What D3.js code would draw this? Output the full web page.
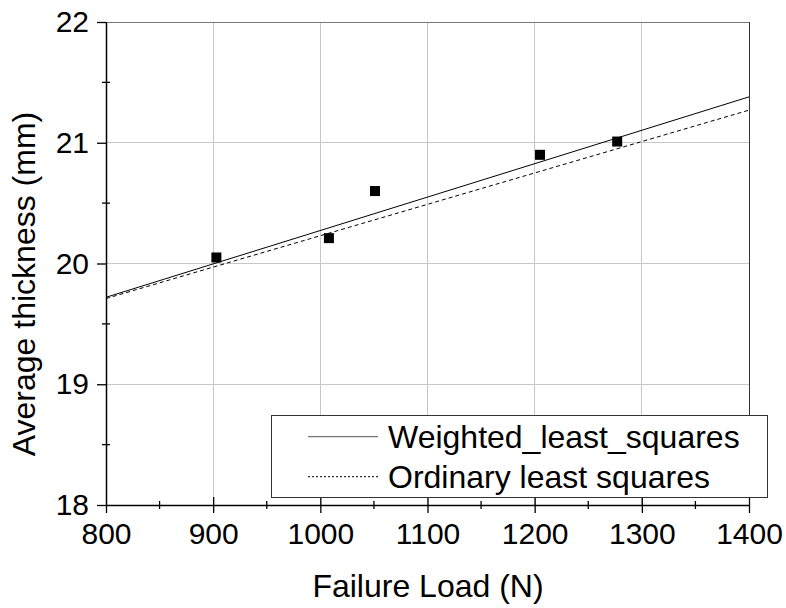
<!DOCTYPE html>
<html><head><meta charset="utf-8">
<script src="https://cdn.jsdelivr.net/npm/d3@7/dist/d3.min.js"></script>
<style>body{margin:0;background:#fff}svg{display:block}text{font-family:"Liberation Sans",Arial,sans-serif;fill:#000}</style>
</head><body><svg id="c" width="786" height="608"></svg>
<script>
const failureLoad = [903, 1008, 1051, 1205, 1277];
const avgThickness = [20.05, 20.21, 20.60, 20.90, 21.01];
const wlsLine = [[800, 19.72], [1400, 21.38]];
const olsLine = [[800, 19.71], [1400, 21.27]];
const xTicks = [800, 900, 1000, 1100, 1200, 1300, 1400];
const yTicks = [18, 19, 20, 21, 22];
const xMinor = [850, 950, 1050, 1150, 1250, 1350];
const yMinor = [18.5, 19.5, 20.5, 21.5];
const legendLabels = ["Weighted_least_squares", "Ordinary least squares"];

const svg = d3.select("#c");
const L = 106, R = 749, T = 22, B = 505;
const x = d3.scaleLinear().domain([800, 1400]).range([L, R]);
const y = d3.scaleLinear().domain([18, 22]).range([B, T]);

// grid
svg.append("g").selectAll("line").data(xTicks.slice(1, -1)).join("line")
  .attr("x1", d => x(d)).attr("x2", d => x(d)).attr("y1", T).attr("y2", B)
  .attr("stroke", "#c8c8c8").attr("stroke-width", 1).attr("shape-rendering", "crispEdges");
svg.append("g").selectAll("line").data(yTicks.slice(1, -1)).join("line")
  .attr("y1", d => y(d)).attr("y2", d => y(d)).attr("x1", L).attr("x2", R)
  .attr("stroke", "#c8c8c8").attr("stroke-width", 1).attr("shape-rendering", "crispEdges");

// frame top/right
svg.append("line").attr("x1", L).attr("x2", R).attr("y1", T).attr("y2", T).attr("stroke", "#777").attr("shape-rendering", "crispEdges");
svg.append("line").attr("x1", R).attr("x2", R).attr("y1", T).attr("y2", B).attr("stroke", "#333").attr("shape-rendering", "crispEdges");

// fit lines
const line = d3.line().x(d => x(d[0])).y(d => y(d[1]));
svg.append("path").attr("d", line(wlsLine)).attr("fill", "none").attr("stroke", "#000").attr("stroke-width", 1);
svg.append("path").attr("d", line(olsLine)).attr("fill", "none").attr("stroke", "#000").attr("stroke-width", 1).attr("stroke-dasharray", "4,3");

// points
svg.append("g").selectAll("rect").data(failureLoad).join("rect")
  .attr("x", (d, i) => x(d) - 5).attr("y", (d, i) => y(avgThickness[i]) - 5)
  .attr("width", 10).attr("height", 10).attr("fill", "#000");

// x axis
const xAxis = d3.axisBottom(x).tickValues(xTicks).tickSize(8).tickPadding(10).tickFormat(d3.format("d"));
const gx = svg.append("g").attr("transform", `translate(0,${B})`).call(xAxis);
gx.select(".domain").attr("stroke", "#000").attr("stroke-width", 1.5).attr("d", `M${L},0.5H${R}`);
gx.selectAll(".tick line").attr("y1", (d) => d === 800 ? 0 : -8).attr("stroke", "#000").attr("stroke-width", 1.3);
gx.selectAll(".tick text").attr("font-size", 30).attr("dy", "0.71em").attr("y", 18).style("font-family", "Liberation Sans, Arial, sans-serif");
svg.append("g").selectAll("line").data(xMinor).join("line")
  .attr("x1", d => x(d)).attr("x2", d => x(d)).attr("y1", B - 4).attr("y2", B + 4)
  .attr("stroke", "#000").attr("stroke-width", 1.3);

// y axis
const yAxis = d3.axisLeft(y).tickValues(yTicks).tickSize(9).tickPadding(8).tickFormat(d3.format("d"));
const gy = svg.append("g").attr("transform", `translate(${L},0)`).call(yAxis);
gy.select(".domain").attr("stroke", "#000").attr("stroke-width", 1.5).attr("d", `M0.5,${T}V${B}`);
gy.selectAll(".tick line").attr("stroke", "#000").attr("stroke-width", 1.3);
gy.selectAll(".tick text").attr("font-size", 30).style("font-family", "Liberation Sans, Arial, sans-serif").attr("x", -17);
svg.append("g").selectAll("line").data(yMinor).join("line")
  .attr("y1", d => y(d)).attr("y2", d => y(d)).attr("x1", L - 4).attr("x2", L + 4)
  .attr("stroke", "#000").attr("stroke-width", 1.3);

// axis titles
svg.append("text").attr("x", 428).attr("y", 597).attr("text-anchor", "middle")
  .attr("font-size", 32).text("Failure Load (N)");
svg.append("text").attr("transform", `translate(35,284) rotate(-90)`).attr("text-anchor", "middle")
  .attr("font-size", 32).text("Average thickness (mm)");

// legend
const lg = svg.append("g");
lg.append("rect").attr("x", 271.5).attr("y", 415.5).attr("width", 496).attr("height", 82)
  .attr("fill", "#fff").attr("stroke", "#333").attr("stroke-width", 1);
const rows = [436.7, 476.7];
lg.selectAll("line.s").data(legendLabels).join("line")
  .attr("x1", 308).attr("x2", 378).attr("y1", (d, i) => rows[i]).attr("y2", (d, i) => rows[i])
  .attr("stroke", (d, i) => i === 0 ? "#555" : "#000").attr("stroke-width", 1)
  .attr("stroke-dasharray", (d, i) => i === 0 ? null : "2,2");
lg.selectAll("text").data(legendLabels).join("text")
  .attr("x", 388).attr("y", (d, i) => rows[i] + 11).attr("font-size", 32).text(d => d);
</script></body></html>
